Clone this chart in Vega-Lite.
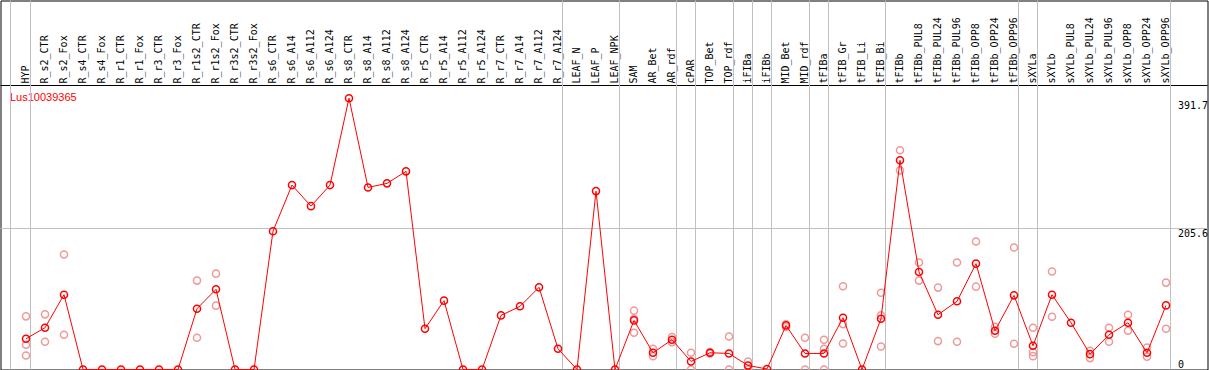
{
  "$schema": "https://vega.github.io/schema/vega-lite/v6.json",
  "autosize": "none",
  "padding": {"left": 0.5, "top": 0.5, "right": 1.5, "bottom": 0.5},
  "width": 1207,
  "height": 369,
  "background": "white",
  "config": {
    "view": {"stroke": "#000000", "strokeWidth": 1},
    "axis": {"labelFont": "DejaVu Sans Mono", "labelFontSize": 10, "labelColor": "#000000", "translate": 0}
  },
  "datasets": {
    "means": [
      {"cat": "HYP", "value": 44.9}, {"cat": "R_s2_CTR", "value": 60.9}, {"cat": "R_s2_Fox", "value": 109.1},
      {"cat": "R_s4_CTR", "value": 0}, {"cat": "R_s4_Fox", "value": 0}, {"cat": "R_r1_CTR", "value": 0},
      {"cat": "R_r1_Fox", "value": 0}, {"cat": "R_r3_CTR", "value": 0}, {"cat": "R_r3_Fox", "value": 0},
      {"cat": "R_r1s2_CTR", "value": 88.7}, {"cat": "R_r1s2_Fox", "value": 116.9}, {"cat": "R_r3s2_CTR", "value": 0},
      {"cat": "R_r3s2_Fox", "value": 0}, {"cat": "R_s6_CTR", "value": 201.7}, {"cat": "R_s6_A14", "value": 268.9},
      {"cat": "R_s6_A112", "value": 238.2}, {"cat": "R_s6_A124", "value": 268.9}, {"cat": "R_s8_CTR", "value": 395.6},
      {"cat": "R_s8_A14", "value": 265.5}, {"cat": "R_s8_A112", "value": 271.4}, {"cat": "R_s8_A124", "value": 288.9},
      {"cat": "R_r5_CTR", "value": 59.5}, {"cat": "R_r5_A14", "value": 100.4}, {"cat": "R_r5_A112", "value": 0},
      {"cat": "R_r5_A124", "value": 0}, {"cat": "R_r7_CTR", "value": 78.9}, {"cat": "R_r7_A14", "value": 92.1},
      {"cat": "R_r7_A112", "value": 119.8}, {"cat": "R_r7_A124", "value": 30.2}, {"cat": "LEAF_N", "value": 0},
      {"cat": "LEAF_P", "value": 260.1}, {"cat": "LEAF_NPK", "value": 0}, {"cat": "SAM", "value": 71.6},
      {"cat": "AR_Bet", "value": 24.4}, {"cat": "AR_rdf", "value": 43.4}, {"cat": "cPAR", "value": 11.7},
      {"cat": "TOP_Bet", "value": 24.4}, {"cat": "TOP_rdf", "value": 23.4}, {"cat": "iFIBa", "value": 5.8},
      {"cat": "iFIBb", "value": 0.8}, {"cat": "MID_Bet", "value": 64.3}, {"cat": "MID_rdf", "value": 23.4},
      {"cat": "tFIBa", "value": 23.4}, {"cat": "tFIB_Gr", "value": 75.5}, {"cat": "tFIB_Li", "value": 0},
      {"cat": "tFIB_Bi", "value": 74.1}, {"cat": "tFIBb", "value": 305.0}, {"cat": "tFIBb_PUL8", "value": 142.2},
      {"cat": "tFIBb_PUL24", "value": 79.9}, {"cat": "tFIBb_PUL96", "value": 99.4}, {"cat": "tFIBb_OPP8", "value": 154.4},
      {"cat": "tFIBb_OPP24", "value": 56.5}, {"cat": "tFIBb_OPP96", "value": 108.1}, {"cat": "sXYLa", "value": 34.6},
      {"cat": "sXYLb", "value": 109.1}, {"cat": "sXYLb_PUL8", "value": 68.2}, {"cat": "sXYLb_PUL24", "value": 22.4},
      {"cat": "sXYLb_PUL96", "value": 50.7}, {"cat": "sXYLb_OPP8", "value": 68.2}, {"cat": "sXYLb_OPP24", "value": 24.4},
      {"cat": "sXYLb_OPP96", "value": 93.5}
    ],
    "reps": [
      {"cat": "HYP", "value": 77.5}, {"cat": "HYP", "value": 36}, {"cat": "HYP", "value": 20.5},
      {"cat": "R_s2_CTR", "value": 80.4}, {"cat": "R_s2_CTR", "value": 40.4},
      {"cat": "R_s2_Fox", "value": 167.6}, {"cat": "R_s2_Fox", "value": 50.7},
      {"cat": "R_r1s2_CTR", "value": 129.6}, {"cat": "R_r1s2_CTR", "value": 46.3},
      {"cat": "R_r1s2_Fox", "value": 139.8}, {"cat": "R_r1s2_Fox", "value": 93.1},
      {"cat": "SAM", "value": 85.8}, {"cat": "SAM", "value": 74.1}, {"cat": "SAM", "value": 53.6},
      {"cat": "AR_Bet", "value": 30.2}, {"cat": "AR_Bet", "value": 19.5},
      {"cat": "AR_rdf", "value": 47.2}, {"cat": "AR_rdf", "value": 39.9},
      {"cat": "cPAR", "value": 24.4}, {"cat": "cPAR", "value": 0},
      {"cat": "TOP_Bet", "value": 25.6}, {"cat": "TOP_Bet", "value": 23.2},
      {"cat": "TOP_rdf", "value": 48.2}, {"cat": "TOP_rdf", "value": 0},
      {"cat": "iFIBa", "value": 11.7}, {"cat": "iFIBa", "value": 0},
      {"cat": "MID_Bet", "value": 66}, {"cat": "MID_Bet", "value": 62},
      {"cat": "MID_rdf", "value": 46.3}, {"cat": "MID_rdf", "value": 0},
      {"cat": "tFIBa", "value": 43.4}, {"cat": "tFIBa", "value": 30.2}, {"cat": "tFIBa", "value": 0},
      {"cat": "tFIB_Gr", "value": 121.3}, {"cat": "tFIB_Gr", "value": 66.2}, {"cat": "tFIB_Gr", "value": 38},
      {"cat": "tFIB_Bi", "value": 112}, {"cat": "tFIB_Bi", "value": 78.9}, {"cat": "tFIB_Bi", "value": 33.6},
      {"cat": "tFIBb", "value": 319.6}, {"cat": "tFIBb", "value": 290.4},
      {"cat": "tFIBb_PUL8", "value": 155.9}, {"cat": "tFIBb_PUL8", "value": 129.6},
      {"cat": "tFIBb_PUL24", "value": 119.4}, {"cat": "tFIBb_PUL24", "value": 41.4},
      {"cat": "tFIBb_PUL96", "value": 155.9}, {"cat": "tFIBb_PUL96", "value": 40.4},
      {"cat": "tFIBb_OPP8", "value": 186.6}, {"cat": "tFIBb_OPP8", "value": 120.8},
      {"cat": "tFIBb_OPP24", "value": 62.4}, {"cat": "tFIBb_OPP24", "value": 52.2},
      {"cat": "tFIBb_OPP96", "value": 177.8}, {"cat": "tFIBb_OPP96", "value": 37.5},
      {"cat": "sXYLa", "value": 60.9}, {"cat": "sXYLa", "value": 25.3}, {"cat": "sXYLa", "value": 19.5},
      {"cat": "sXYLb", "value": 142.8}, {"cat": "sXYLb", "value": 77},
      {"cat": "sXYLb_PUL24", "value": 27.3}, {"cat": "sXYLb_PUL24", "value": 16.6},
      {"cat": "sXYLb_PUL96", "value": 60.9}, {"cat": "sXYLb_PUL96", "value": 40.4},
      {"cat": "sXYLb_OPP8", "value": 79.9}, {"cat": "sXYLb_OPP8", "value": 56.5},
      {"cat": "sXYLb_OPP24", "value": 32.1}, {"cat": "sXYLb_OPP24", "value": 18.5},
      {"cat": "sXYLb_OPP96", "value": 126.7}, {"cat": "sXYLb_OPP96", "value": 59.5}
    ],
    "seps": [
      {"cat": "HYP"}, {"cat": "R_r7_A124"}, {"cat": "LEAF_NPK"}, {"cat": "AR_rdf"}, {"cat": "cPAR"},
      {"cat": "TOP_rdf"}, {"cat": "iFIBa"}, {"cat": "iFIBb"}, {"cat": "MID_rdf"}, {"cat": "tFIBa"},
      {"cat": "tFIB_Bi"}, {"cat": "tFIBb_OPP96"}, {"cat": "sXYLa"}, {"cat": "sXYLb_OPP96"}
    ],
    "first": [{"cat": "HYP"}],
    "hlines": [{"level": 205.6, "kind": "grid"}, {"level": 414.1, "kind": "header"}]
  },
  "layer": [
    {
      "data": {"name": "hlines"},
      "mark": {"type": "rule", "strokeWidth": 1},
      "encoding": {
        "y": {"field": "level", "type": "quantitative",
              "scale": {"domain": [0, 538.06], "nice": false, "zero": true},
              "axis": {"orient": "right", "title": null, "values": [0, 205.6, 391.7],
                       "labelExpr": "datum.value === 0 ? '0' : format(datum.value, '.1f')",
                       "domain": false, "ticks": false, "tickSize": 0, "labelAlign": "left", "labelPadding": -29.5,
                       "labelBaseline": {"condition": {"test": "datum.value === 0", "value": "bottom"}, "value": "top"},
                       "grid": false}},
        "color": {"field": "kind", "type": "nominal", "scale": {"domain": ["grid", "header"], "range": ["#c0c0c0", "#000000"]}, "legend": null}
      }
    },
    {
      "data": {"name": "seps"},
      "mark": {"type": "rule", "color": "#c0c0c0", "strokeWidth": 1, "xOffset": 4.5},
      "encoding": {
        "x": {
          "field": "cat", "type": "nominal",
          "scale": {"type": "point", "domain": ["HYP","R_s2_CTR","R_s2_Fox","R_s4_CTR","R_s4_Fox","R_r1_CTR","R_r1_Fox","R_r3_CTR","R_r3_Fox","R_r1s2_CTR","R_r1s2_Fox","R_r3s2_CTR","R_r3s2_Fox","R_s6_CTR","R_s6_A14","R_s6_A112","R_s6_A124","R_s8_CTR","R_s8_A14","R_s8_A112","R_s8_A124","R_r5_CTR","R_r5_A14","R_r5_A112","R_r5_A124","R_r7_CTR","R_r7_A14","R_r7_A112","R_r7_A124","LEAF_N","LEAF_P","LEAF_NPK","SAM","AR_Bet","AR_rdf","cPAR","TOP_Bet","TOP_rdf","iFIBa","iFIBb","MID_Bet","MID_rdf","tFIBa","tFIB_Gr","tFIB_Li","tFIB_Bi","tFIBb","tFIBb_PUL8","tFIBb_PUL24","tFIBb_PUL96","tFIBb_OPP8","tFIBb_OPP24","tFIBb_OPP96","sXYLa","sXYLb","sXYLb_PUL8","sXYLb_PUL24","sXYLb_PUL96","sXYLb_OPP8","sXYLb_OPP24","sXYLb_OPP96"], "range": [25.5, 1165.5], "padding": 0, "round": false},
          "axis": {"orient": "top", "offset": -85, "domain": false,
                   "ticks": false, "tickSize": 0, "grid": false,
                   "labelAngle": 270, "labelAlign": "left", "labelBaseline": "middle", "labelPadding": 2,
                   "labelOverlap": false, "labelBound": false, "labelLimit": 0,
                   "title": "Lus10039365", "titleColor": "#ff0000", "titleFont": "Liberation Sans", "titleFontSize": 11,
                   "titleFontWeight": "normal", "titleAnchor": "start", "titleAlign": "left", "titleBaseline": "alphabetic",
                   "titleX": 9.5, "titleY": 15, "titlePadding": 0}
        }
      }
    },
    {
      "data": {"name": "first"},
      "mark": {"type": "rule", "color": "#c0c0c0", "strokeWidth": 1, "xOffset": -15.5},
      "encoding": {"x": {"field": "cat", "type": "nominal"}}
    },
    {
      "data": {"name": "reps"},
      "mark": {"type": "point", "shape": "circle", "filled": false, "size": 50, "strokeWidth": 1.5, "color": "#ee9999", "opacity": 1},
      "encoding": {
        "x": {"field": "cat", "type": "nominal"},
        "y": {"field": "value", "type": "quantitative"}
      }
    },
    {
      "data": {"name": "means"},
      "mark": {"type": "line", "color": "#ff0000", "strokeWidth": 1},
      "encoding": {
        "x": {"field": "cat", "type": "nominal"},
        "y": {"field": "value", "type": "quantitative"}
      }
    },
    {
      "data": {"name": "means"},
      "mark": {"type": "point", "shape": "circle", "filled": false, "size": 50, "strokeWidth": 1.5, "color": "#ff0000", "opacity": 1},
      "encoding": {
        "x": {"field": "cat", "type": "nominal"},
        "y": {"field": "value", "type": "quantitative"}
      }
    }
  ]
}
